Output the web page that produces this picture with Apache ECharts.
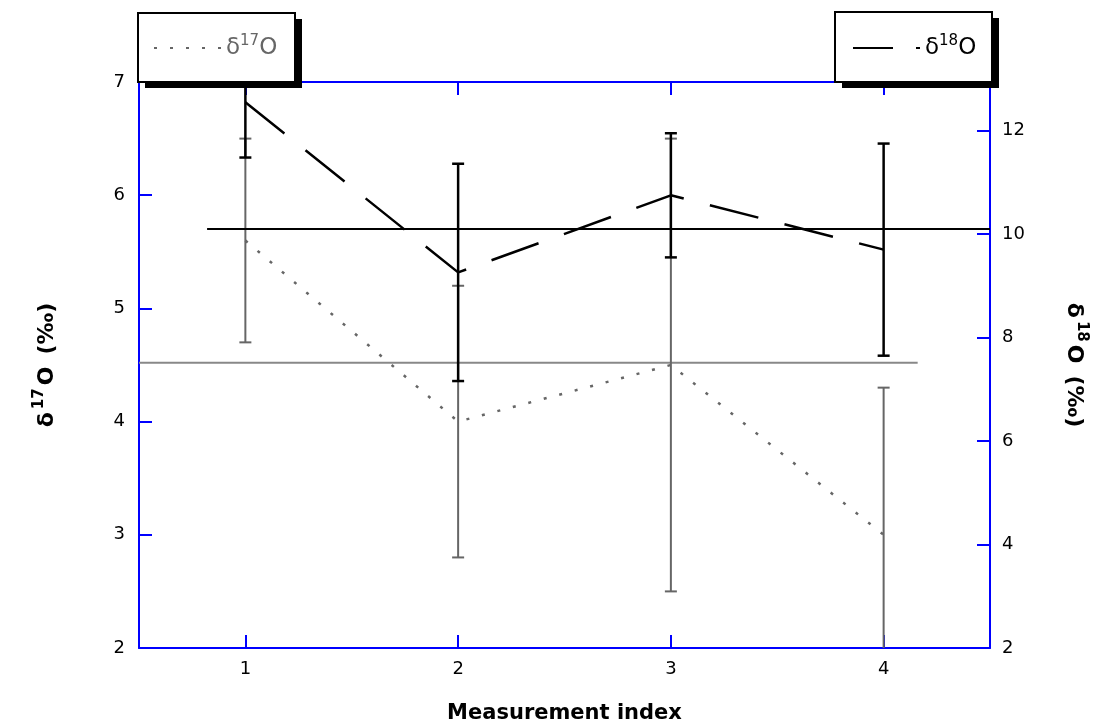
<!DOCTYPE html>
<html><head><meta charset="utf-8">
<script src="https://cdn.jsdelivr.net/npm/echarts@6/dist/echarts.min.js"></script>
<style>html,body{margin:0;padding:0;background:#fff}#c{width:1096px;height:724px}</style>
</head><body><div id="c"></div>
<script>
// ---- data ----
const xTicks = [1, 2, 3, 4];
const d17Values = [5.6, 4.0, 4.5, 3.0];
const d17Errors = [0.9, 1.2, 2.0, 1.3];
const d18Values = [12.55, 9.26, 10.75, 9.7];
const d18Errors = [1.07, 2.1, 1.2, 2.05];
const d17RefX = [0.5, 4.16];
const d17RefY = 4.52;
const d18RefX = [0.82, 4.5];
const d18RefY = 10.1;
const leftTicks = [2, 3, 4, 5, 6, 7];
const rightTicks = [2, 4, 6, 8, 10, 12];

const BLUE = '#0000ff';
const FONT = 'DejaVu Sans';

function errorBars(color, width) {
  return function (params, api) {
    const x = api.value(0);
    const top = api.coord([x, api.value(2)]);
    const bot = api.coord([x, api.value(1)]);
    const cs = params.coordSys;
    const y0 = cs.y, y1 = cs.y + cs.height;
    const st = { stroke: color, lineWidth: width };
    const hw = 6;
    const ch = [{ type: 'line', shape: { x1: top[0], y1: Math.max(top[1], y0), x2: top[0], y2: Math.min(bot[1], y1) }, style: st }];
    if (top[1] >= y0) ch.push({ type: 'line', shape: { x1: top[0] - hw, y1: top[1], x2: top[0] + hw, y2: top[1] }, style: st });
    if (bot[1] <= y1) ch.push({ type: 'line', shape: { x1: bot[0] - hw, y1: bot[1], x2: bot[0] + hw, y2: bot[1] }, style: st });
    return { type: 'group', children: ch };
  };
}

const d17Line = xTicks.map((x, i) => [x, d17Values[i]]);
const d18Line = xTicks.map((x, i) => [x, d18Values[i]]);
const d17Err = xTicks.map((x, i) => [x, d17Values[i] - d17Errors[i], d17Values[i] + d17Errors[i]]);
const d18Err = xTicks.map((x, i) => [x, d18Values[i] - d18Errors[i], d18Values[i] + d18Errors[i]]);

const legendBase = {
  orient: 'horizontal',
  top: 34,
  padding: 0,
  itemWidth: 67,
  itemHeight: 14,
  itemGap: 0,
  selectedMode: false,
  itemStyle: { opacity: 0 },
  z: 12
};

function legendBox(x, y, w, h) {
  return [
    { type: 'rect', z: 10, shape: { x: x + 7, y: y + 6, width: w, height: h }, style: { fill: '#000' } },
    { type: 'rect', z: 11, shape: { x: x, y: y, width: w, height: h }, style: { fill: '#fff', stroke: '#000', lineWidth: 2 } }
  ];
}

const nameRich = {
  b: { fontSize: 22, fontWeight: 'bold', fontFamily: FONT, color: '#000', lineHeight: 30, padding: [0, 2, 0, 2] },
  t: { fontSize: 15, fontWeight: 'bold', fontFamily: FONT, color: '#000', verticalAlign: 'top', lineHeight: 30, padding: [0, 1, 9, 1] },
  sp: { fontSize: 22, lineHeight: 30, width: 8 }
};

const chart = echarts.init(document.getElementById('c'));
chart.setOption({
  animation: false,
  backgroundColor: '#fff',
  grid: { left: 139, right: 106, top: 82, bottom: 76, containLabel: false, outerBoundsMode: 'none' },
  graphic: [].concat(legendBox(138, 13, 157, 69), legendBox(835, 12, 157, 70)),
  legend: [
    Object.assign({}, legendBase, {
      left: 153,
      data: ['d17'],
      formatter: () => '{a|δ}{s|17}{a|O}',
      textStyle: {
        color: '#666',
        rich: {
          a: { fontSize: 23, fontFamily: FONT, color: '#666', lineHeight: 28 },
          s: { fontSize: 15, fontFamily: FONT, color: '#666', verticalAlign: 'top', lineHeight: 28, padding: [0, 0, 8, 0] }
        }
      }
    }),
    Object.assign({}, legendBase, {
      left: 852,
      data: ['d18'],
      lineStyle: { type: [40, 23] },
      formatter: () => '{a|δ}{s|18}{a|O}',
      textStyle: {
        color: '#000',
        rich: {
          a: { fontSize: 23, fontFamily: FONT, color: '#000', lineHeight: 28 },
          s: { fontSize: 15, fontFamily: FONT, color: '#000', verticalAlign: 'top', lineHeight: 28, padding: [0, 0, 8, 0] }
        }
      }
    })
  ],
  xAxis: [{
    type: 'value', min: 0.5, max: 4.5, position: 'bottom',
    name: 'Measurement index', nameLocation: 'middle', nameGap: 55,
    nameTextStyle: { fontSize: 21, fontWeight: 'bold', fontFamily: FONT, color: '#000' },
    axisLine: { show: true, lineStyle: { color: BLUE, width: 2 } },
    axisTick: { show: true, inside: true, length: 13, lineStyle: { color: BLUE, width: 2 }, customValues: xTicks },
    axisLabel: { show: true, customValues: xTicks, fontSize: 18, fontFamily: FONT, color: '#000', margin: 12 },
    splitLine: { show: false }
  }, {
    type: 'value', min: 0.5, max: 4.5, position: 'top',
    axisLine: { show: true, lineStyle: { color: BLUE, width: 2 } },
    axisTick: { show: true, inside: true, length: 13, lineStyle: { color: BLUE, width: 2 }, customValues: xTicks },
    axisLabel: { show: false },
    splitLine: { show: false }
  }],
  yAxis: [{
    type: 'value', min: 2, max: 7, interval: 1, position: 'left',
    name: '{b|δ}{t|17}{b|O}{sp| }{b|(‰)}', nameLocation: 'middle', nameGap: 77, nameRotate: 90,
    nameTextStyle: { rich: nameRich },
    axisLine: { show: true, lineStyle: { color: BLUE, width: 2 } },
    axisTick: { show: true, inside: true, length: 13, lineStyle: { color: BLUE, width: 2 }, customValues: leftTicks },
    axisLabel: { customValues: leftTicks, fontSize: 18, fontFamily: FONT, color: '#000', margin: 14 },
    splitLine: { show: false }
  }, {
    type: 'value', min: 2, max: 12.94, position: 'right',
    name: '{b|δ}{t|18}{b|O}{sp| }{b|(‰)}', nameLocation: 'middle', nameGap: 69, nameRotate: -90,
    nameTextStyle: { rich: nameRich },
    axisLine: { show: true, lineStyle: { color: BLUE, width: 2 } },
    axisTick: { show: true, inside: true, length: 13, lineStyle: { color: BLUE, width: 2 }, customValues: rightTicks },
    axisLabel: { customValues: rightTicks, fontSize: 18, fontFamily: FONT, color: '#000', margin: 12 },
    splitLine: { show: false }
  }],
  series: [
    {
      name: 'ref17', type: 'line', xAxisIndex: 0, yAxisIndex: 0,
      data: d17RefX.map(x => [x, d17RefY]), symbol: 'none', silent: true,
      lineStyle: { color: '#888', width: 2 }, z: 2
    },
    {
      name: 'err17', type: 'custom', xAxisIndex: 0, yAxisIndex: 0,
      data: d17Err, encode: { x: 0, y: [1, 2] }, renderItem: errorBars('#666', 2), z: 3
    },
    {
      name: 'd17', type: 'line', xAxisIndex: 0, yAxisIndex: 0,
      data: d17Line, symbol: 'none', color: '#666',
      lineStyle: { color: '#666', width: 2.5, type: [3, 13] }, z: 3
    },
    {
      name: 'ref18', type: 'line', xAxisIndex: 0, yAxisIndex: 1,
      data: d18RefX.map(x => [x, d18RefY]), symbol: 'none', silent: true,
      lineStyle: { color: '#000', width: 2 }, z: 4
    },
    {
      name: 'err18', type: 'custom', xAxisIndex: 0, yAxisIndex: 1,
      data: d18Err, encode: { x: 0, y: [1, 2] }, renderItem: errorBars('#000', 2.5), z: 5
    },
    {
      name: 'd18', type: 'line', xAxisIndex: 0, yAxisIndex: 1,
      data: d18Line, symbol: 'none', color: '#000',
      lineStyle: { color: '#000', width: 2.5, type: [50, 27] }, z: 5
    }
  ]
});
</script>
</body></html>
